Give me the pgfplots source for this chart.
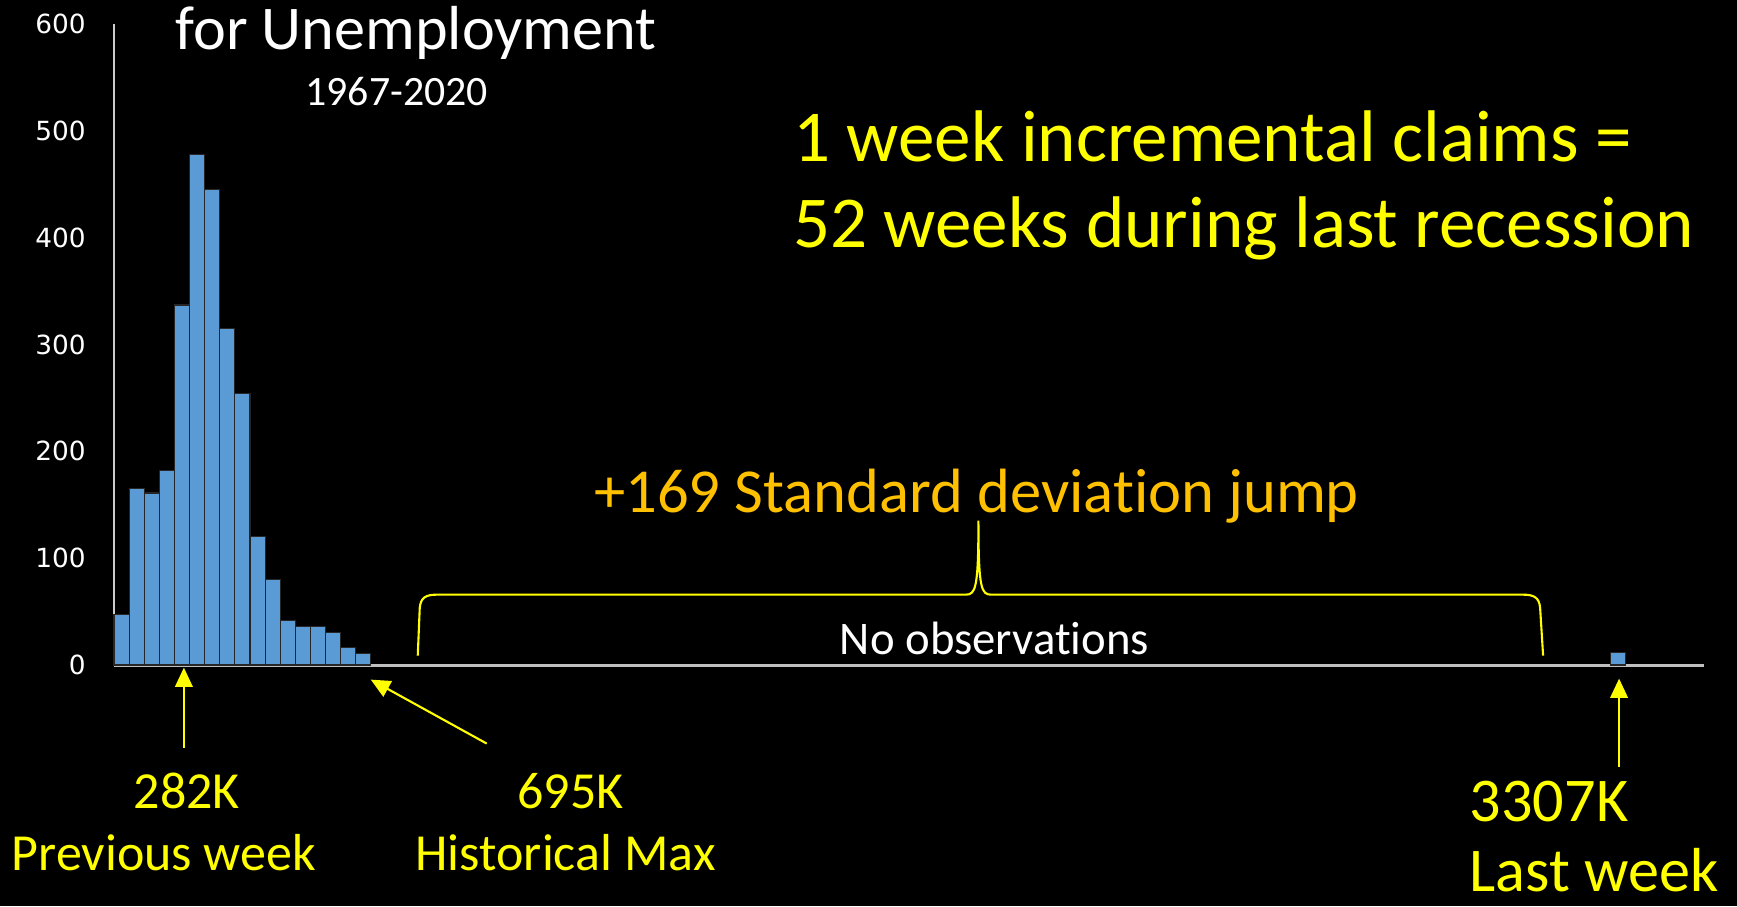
\documentclass[border=0pt]{standalone}
\usepackage{fontspec}
\setmainfont{Carlito}[Ligatures=NoCommon]
\newfontfamily\tickfont{DejaVu Sans}
\usepackage{pgfplots}
\pgfplotsset{compat=1.18}
\usetikzlibrary{arrows.meta}
\definecolor{barblue}{HTML}{5B9BD5}
\definecolor{slideyellow}{HTML}{FFFF00}
\definecolor{slideorange}{HTML}{FFC000}
\definecolor{axisgrey}{HTML}{BFBFBF}

% weekly initial claims histogram, bins of roughly 32K
\pgfplotstableread{
x y
0.5 47
1.5 165
2.5 161
3.5 182
4.5 337
5.5 478
6.5 445
7.5 315
8.5 254
9.5 120
10.5 80
11.5 42
12.5 36
13.5 36
14.5 30
15.5 16
16.5 10.5
99.5 12
}\claims

\begin{document}
\begin{tikzpicture}
\useasboundingbox (0,0) rectangle (17.37,-9.06);
\clip (0,0) rectangle (17.37,-9.06);
\fill[black] (0,0) rectangle (17.37,-9.06);

\begin{axis}[
  at={(1.14cm,-6.65cm)}, anchor=origin,
  scale only axis, width=15.9cm, height=6.41cm,
  xmin=0, xmax=105.2, ymin=0, ymax=600,
  axis lines=left, axis line style={-},
  x axis line style={axisgrey, line width=0.85pt},
  y axis line style={axisgrey!80!white, line width=0.5pt},
  xtick=\empty, ytick={0,100,...,600}, major tick length=0pt,
  /pgf/number format/assume math mode=true,
  yticklabel style={font=\tickfont\fontsize{7.5}{8}\selectfont, text=white, xshift=-0.16cm},
  clip=false]
\addplot[ybar, bar width=1, bar shift=0pt, fill=barblue, draw=black!85, line width=0.3pt]
  table[x=x, y=y] {\claims};
\end{axis}

\begin{scope}[x=0.01cm, y=-0.01cm]
\node[anchor=base west, inner sep=0, text=white, font=\fontsize{17.7}{20}\selectfont] at (175,50) {for Unemployment};
\node[anchor=base, inner sep=0, text=white, font=\fontsize{11.9}{14}\selectfont] at (397,106) {1967-2020};

\node[anchor=base west, inner sep=0, text=slideyellow, font=\fontsize{20.8}{24}\selectfont] at (793,162) {1 week incremental claims =};
\node[anchor=base west, inner sep=0, text=slideyellow, font=\fontsize{20.8}{24}\selectfont] at (793,248) {52 weeks during last recession};

\node[anchor=base west, inner sep=0, text=slideorange, font=\fontsize{17.8}{20}\selectfont] at (594,513) {+169 Standard deviation jump};

% brace over the empty range
\draw[slideyellow, line width=0.6pt]
  (418,656) -- (420,608) .. controls (421,598) and (426,595) .. (437,595)
  -- (966,595) .. controls (976,595) and (979,590) .. (979,521)
  .. controls (979,590) and (982,595) .. (992,595)
  -- (1524,595) .. controls (1535,595) and (1540,598) .. (1541,608) -- (1544,656);

\node[anchor=base, inner sep=0, text=white, font=\fontsize{13.3}{16}\selectfont] at (995,655) {No observations};

\draw[slideyellow, line width=0.6pt, -{Triangle[width=5pt,length=5.5pt]}] (184,748) -- (184,668);
\draw[slideyellow, line width=0.6pt, -{Triangle[width=5pt,length=5.5pt]}] (487,744) -- (371,680);
\draw[slideyellow, line width=0.6pt, -{Triangle[width=5pt,length=5.5pt]}] (1620,767) -- (1620,679);

\node[anchor=base, inner sep=0, text=slideyellow, font=\fontsize{14.8}{17}\selectfont] at (187,809) {282K};
\node[anchor=base west, inner sep=0, text=slideyellow, font=\fontsize{14.8}{17}\selectfont] at (11,871) {Previous week};
\node[anchor=base, inner sep=0, text=slideyellow, font=\fontsize{14.8}{17}\selectfont] at (571,809) {695K};
\node[anchor=base west, inner sep=0, text=slideyellow, font=\fontsize{14.8}{17}\selectfont] at (415,871) {Historical Max};
\node[anchor=base west, inner sep=0, text=slideyellow, font=\fontsize{17.7}{20}\selectfont] at (1470,822) {3307K};
\node[anchor=base west, inner sep=0, text=slideyellow, font=\fontsize{17.7}{20}\selectfont] at (1470,892) {Last week};
\end{scope}
\end{tikzpicture}
\end{document}
